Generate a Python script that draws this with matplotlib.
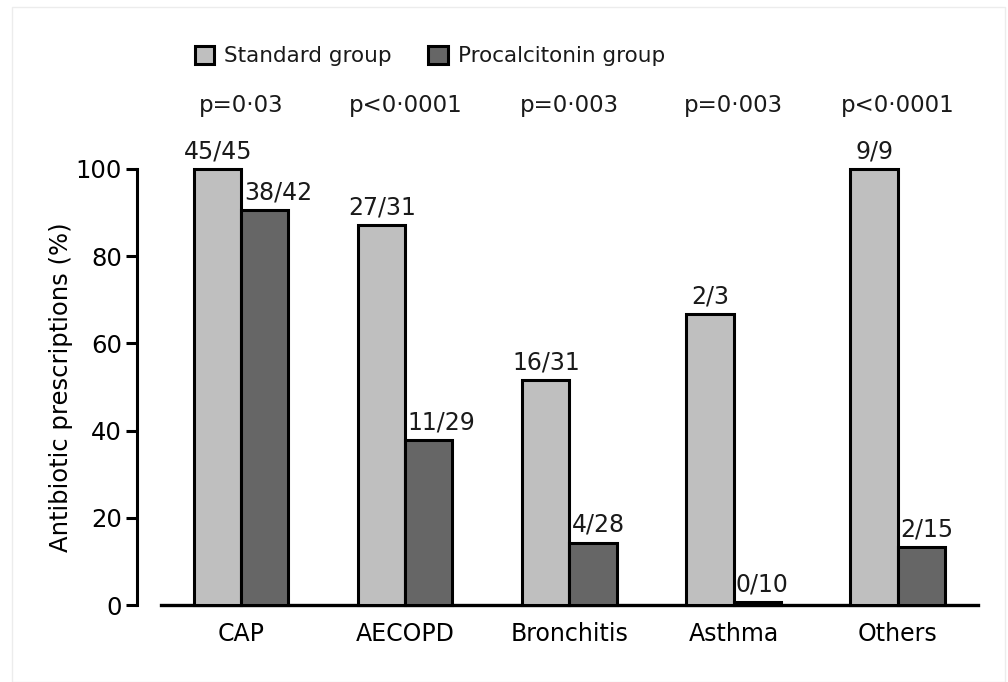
import numpy as np
import matplotlib
matplotlib.use("Agg")
from matplotlib import pyplot as plt
from matplotlib.patches import Rectangle

categories = ["CAP", "AECOPD", "Bronchitis", "Asthma", "Others"]
standard_counts = ["45/45", "27/31", "16/31", "2/3", "9/9"]
procalcitonin_counts = ["38/42", "11/29", "4/28", "0/10", "2/15"]
standard_pct = [100.0, 87.1, 51.6, 66.7, 100.0]
procalcitonin_pct = [90.5, 37.9, 14.3, 0.6, 13.3]
p_values = ["p=0\u00b703", "p<0\u00b70001", "p=0\u00b7003", "p=0\u00b7003", "p<0\u00b70001"]

plt.rcParams['font.family'] = ['DejaVu Sans']
plt.rcParams['text.color'] = '#1a1a1a'

fig = plt.figure(figsize=(10.08, 6.82), dpi=100)
ax = fig.add_axes([0.1597, 0.1129, 0.8105, 0.6393])

# faint frame around the picture
fig.patches.append(Rectangle((0.012, 0.0), 0.985, 0.99, transform=fig.transFigure,
                             fill=False, edgecolor='#ececec', linewidth=1))

x = np.arange(len(categories))
w = 0.287
light = '#bfbfbf'
dark = '#666666'

ax.bar(x - w / 2, standard_pct, w, color=light, edgecolor='black', linewidth=2.2,
       label="Standard group", clip_on=False, zorder=3)
ax.bar(x + w / 2, procalcitonin_pct, w, color=dark, edgecolor='black', linewidth=2.2,
       label="Procalcitonin group", clip_on=False, zorder=3)

for i in range(len(categories)):
    ax.text(x[i] - w / 2, standard_pct[i] + 1.3, standard_counts[i], ha='center',
            va='bottom', fontsize=17, clip_on=False)
    ax.text(x[i] + 0.015, procalcitonin_pct[i] + 1.3, procalcitonin_counts[i], ha='left',
            va='bottom', fontsize=17, clip_on=False)
    ax.text(x[i], 114.5, p_values[i], ha='center', va='center', fontsize=16.5, clip_on=False)

ax.set_xlim(-0.49, 4.49)
ax.set_ylim(0, 100)
ax.set_yticks([0, 20, 40, 60, 80, 100])
ax.set_xticks(x)
ax.set_xticklabels(categories)

for s in ['top', 'right']:
    ax.spines[s].set_visible(False)
ax.spines['left'].set_position(('outward', 17))
ax.spines['left'].set_bounds(0, 100)
ax.spines['left'].set_linewidth(2.2)
ax.spines['bottom'].set_linewidth(2.4)
ax.tick_params(axis='y', length=8, width=2.2, labelsize=17.5, pad=3)
ax.tick_params(axis='x', length=0, labelsize=17, pad=12)
ax.set_ylabel("Antibiotic prescriptions (%)", fontsize=17.5, labelpad=2)

fig.legend(loc='center left', bbox_to_anchor=(0.174, 0.918), ncol=2, frameon=False,
           fontsize=15.5, handlelength=0.9, handleheight=0.9, handletextpad=0.45,
           columnspacing=1.72)

fig.savefig("out.png", dpi=100)
